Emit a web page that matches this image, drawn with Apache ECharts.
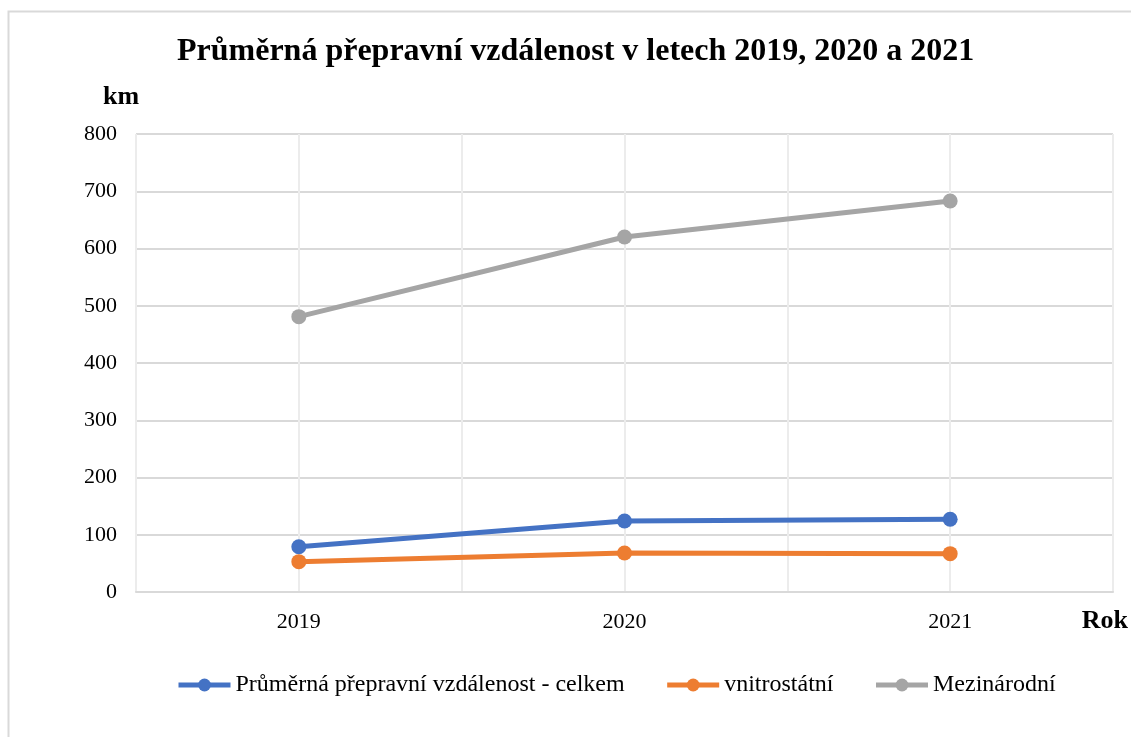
<!DOCTYPE html>
<html>
<head>
<meta charset="utf-8">
<script src="https://cdn.jsdelivr.net/npm/echarts@6/dist/echarts.min.js"></script>
<style>
  html, body { margin: 0; padding: 0; background: #fff; }
  #chart { width: 1131px; height: 737px; }
</style>
</head>
<body>
<div id="chart"></div>
<script>
  // data
  var years    = ['2019', '2020', '2021'];
  var celkem   = [79, 124, 127];
  var vnitro   = [53, 68, 67];
  var mezinar  = [481, 620, 683];
  var names    = ['Průměrná přepravní vzdálenost - celkem', 'vnitrostátní', 'Mezinárodní'];
  var colors   = ['#4472C4', '#ED7D31', '#A5A5A5'];

  var FONT = '"Liberation Serif", "Times New Roman", serif';

  function lineSeries(name, data, color) {
    return {
      name: name, type: 'line', data: data,
      xAxisIndex: 0, yAxisIndex: 0,
      symbol: 'circle', symbolSize: 15,
      lineStyle: { width: 5, color: color },
      itemStyle: { color: color },
      emphasis: { disabled: true }
    };
  }

  var chart = echarts.init(document.getElementById('chart'));
  chart.setOption({
    animation: false,
    backgroundColor: '#fff',
    title: {
      text: 'Průměrná přepravní vzdálenost v letech 2019, 2020 a 2021',
      left: 172, top: 31,
      textStyle: { fontFamily: FONT, fontSize: 32, fontWeight: 'bold', color: '#000' }
    },
    graphic: [{
      type: 'rect', z: -1, silent: true,
      shape: { x: 8.5, y: 11.5, width: 1140, height: 740 },
      style: { fill: 'none', stroke: '#d9d9d9', lineWidth: 2 }
    }],
    legend: {
      data: names, top: 668, left: 171,
      itemWidth: 52, itemHeight: 16, itemGap: 40,
      lineStyle: { width: 5 },
      textStyle: { fontFamily: FONT, fontSize: 24, color: '#000' }
    },
    grid: { left: 136, right: 18, top: 134, bottom: 145 },
    xAxis: [{
      type: 'category', data: years, boundaryGap: true,
      name: 'Rok', nameLocation: 'end', nameGap: 15,
      nameTextStyle: { fontFamily: FONT, fontSize: 26, fontWeight: 'bold', color: '#000',
        align: 'right', verticalAlign: 'top', padding: [16, 0, 0, 0] },
      axisLine: { lineStyle: { color: '#d9d9d9', width: 2 } },
      axisTick: { show: false },
      axisLabel: { fontFamily: FONT, fontSize: 22, color: '#000', margin: 19 },
      splitLine: { show: false }
    }, {
      // half-category grid lines only
      type: 'value', min: 0, max: 6, interval: 1,
      position: 'top',
      axisLine: { show: false }, axisTick: { show: false }, axisLabel: { show: false },
      splitLine: { show: true, lineStyle: { color: '#ececec', width: 2 } }
    }],
    yAxis: {
      type: 'value', min: 0, max: 800, interval: 100,
      name: 'km', nameLocation: 'end', nameGap: 24,
      nameTextStyle: { fontFamily: FONT, fontSize: 26, fontWeight: 'bold', color: '#000',
        align: 'center', padding: [0, 30, 0, 0] },
      axisLine: { show: false }, axisTick: { show: false },
      axisLabel: { fontFamily: FONT, fontSize: 22, color: '#000', margin: 19 },
      splitLine: { lineStyle: { color: '#d9d9d9', width: 2 } }
    },
    series: [
      lineSeries(names[0], celkem, colors[0]),
      lineSeries(names[1], vnitro, colors[1]),
      lineSeries(names[2], mezinar, colors[2])
    ]
  });
</script>
</body>
</html>
